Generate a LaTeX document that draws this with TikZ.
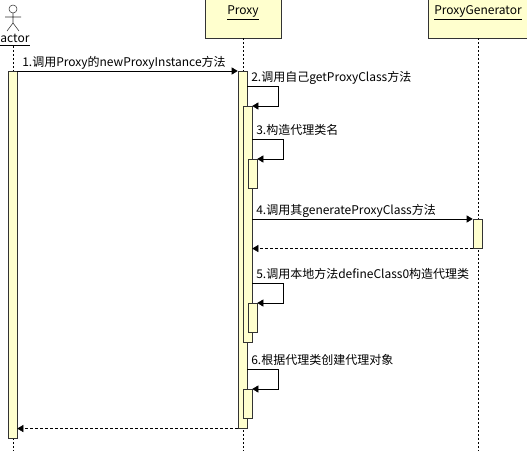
\documentclass[tikz,border=0pt]{standalone}
\usepackage{fontspec}
\setmainfont{Noto Sans CJK SC}
\usetikzlibrary{arrows.meta,positioning}
\definecolor{umlfill}{RGB}{255,255,206}
\tikzset{
  headbox/.style={rectangle, draw=black!80, fill=umlfill, inner sep=0pt},
  headtext/.style={font=\fontsize{9pt}{10pt}\selectfont, inner sep=0pt},
  actbar/.style={rectangle, draw=black!80, fill=umlfill, minimum width=6.75pt, inner sep=0pt, anchor=north},
  msglabel/.style={font=\fontsize{9pt}{10pt}\selectfont, inner sep=0pt, anchor=base west},
  lifeline/.style={black, dash pattern=on 1.5pt off 1.5pt},
  msgarrow/.style={-{Triangle[length=4.5pt,width=5.25pt]}, black},
  retarrow/.style={msgarrow, dash pattern=on 2.25pt off 1.5pt}
}
\begin{document}
\begin{tikzpicture}[x=0.75pt,y=-0.75pt]
\useasboundingbox (0,0) rectangle (527,450);
\coordinate (bottom) at (0,452);
% actor
\draw[black!80] (13,9) circle[radius=3pt];
\draw[black!80] (13,13) -- (13,23) (5,17) -- (21,17) (13,23) -- (7,31) (13,23) -- (19,31);
\node[headtext] (actor) at (15,40) {\underline{actor}};
% object heads
\node[headbox, minimum width=57pt, minimum height=30pt] (pbox) at (243,18) {};
\node[headtext] (ptext) at (243,13) {\underline{Proxy}};
\node[headbox, minimum width=75pt, minimum height=30pt] (gbox) at (478,18) {};
\node[headtext] (gtext) at (478,13) {\underline{ProxyGenerator}};
% lifelines
\draw[lifeline] (actor.south -| 13,0) -- (bottom -| 13,0);
\draw[lifeline] (pbox.south) -- (pbox.south |- bottom);
\draw[lifeline] (gbox.south) -- (gbox.south |- bottom);
% activations
\node[actbar, minimum height=275.25pt] (abar) at (12.5,71) {};
\node[actbar, minimum height=267.75pt] (pbar) at (242.5,71) {};
\node[actbar, minimum height=177pt] (bar2) at (247.5,106) {};
\node[actbar, minimum height=21.75pt] (bar3) at (252.5,159) {};
\node[actbar, minimum height=21.75pt] (gbar) at (477.5,219) {};
\node[actbar, minimum height=21.75pt] (bar5) at (252.5,303) {};
\node[actbar, minimum height=21.75pt] (bar6) at (247.5,389) {};
% messages
\draw[msgarrow] (abar.north east) -- (pbar.north west);
\node[msglabel] (m1) at (22,66) {1.调用Proxy的newProxyInstance方法};
\draw[msgarrow] ([shift={(-5,-20)}]bar2.north east) -- ++(31,0) |- (bar2.north east);
\node[msglabel] (m2) at (251,81) {2.调用自己getProxyClass方法};
\draw[msgarrow] ([shift={(-5,-20)}]bar3.north east) -- ++(31,0) |- (bar3.north east);
\node[msglabel] (m3) at (256,134) {3.构造代理类名};
\draw[msgarrow] (gbar.north west -| bar2.east) -- (gbar.north west);
\node[msglabel] (m4) at (256,214) {4.调用其generateProxyClass方法};
\draw[retarrow] (gbar.south west) -- (gbar.south west -| bar2.east);
\draw[msgarrow] ([shift={(-5,-20)}]bar5.north east) -- ++(31,0) |- (bar5.north east);
\node[msglabel] (m5) at (256,278) {5.调用本地方法defineClass0构造代理类};
\draw[msgarrow] ([shift={(-5,-20)}]bar6.north east) -- ++(31,0) |- (bar6.north east);
\node[msglabel] (m6) at (251,364) {6.根据代理类创建代理对象};
\draw[retarrow] (pbar.south west) -- (pbar.south west -| abar.east);
\end{tikzpicture}
\end{document}
